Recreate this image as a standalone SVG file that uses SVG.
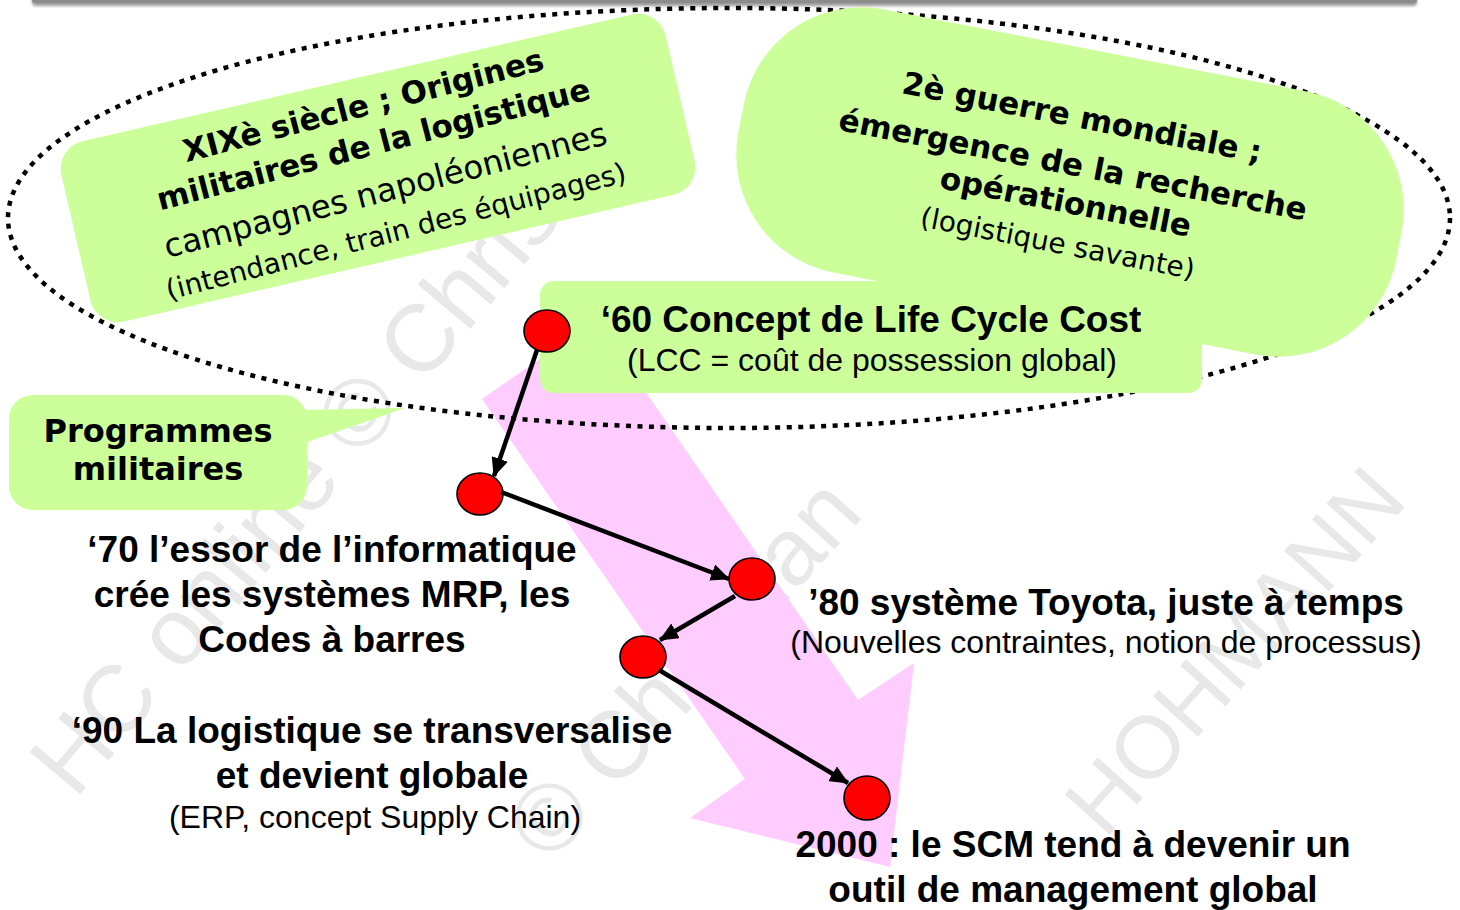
<svg xmlns="http://www.w3.org/2000/svg" width="1460" height="910" viewBox="0 0 1460 910">
<defs>
<style>
.green{fill:#ccff99;stroke:none}
.dot{fill:#ff0000;stroke:#000;stroke-width:1.6}
.ab{font-family:"Liberation Sans",Arial,sans-serif;font-weight:bold;font-size:37px;fill:#000;text-anchor:middle}
.ar{font-family:"Liberation Sans",Arial,sans-serif;font-size:32px;fill:#000;text-anchor:middle}
.vb{font-family:"DejaVu Sans",Verdana,sans-serif;font-weight:bold;font-size:31px;fill:#000;text-anchor:middle}
.vr{font-family:"DejaVu Sans",Verdana,sans-serif;font-size:32px;fill:#000;text-anchor:middle}
.wm{font-family:"Liberation Sans",Arial,sans-serif;font-size:95px;fill:#e8e8e8}
.conn{stroke:#000;stroke-width:4.5;fill:none;marker-end:url(#ah)}
</style>
<marker id="ah" markerUnits="userSpaceOnUse" markerWidth="19" markerHeight="17" viewBox="0 0 19 17" refX="18" refY="8.5" orient="auto">
<path d="M0,0 L19,8.5 L0,17 z" fill="#000"/>
</marker>
<filter id="sh" x="-5%" y="-100%" width="110%" height="400%">
<feGaussianBlur stdDeviation="1.5"/>
</filter>
</defs>
<rect width="1460" height="910" fill="#fff"/>
<g id="watermark">
<text class="wm" transform="translate(75 800) rotate(-50)">HC online © Christian</text>
<text class="wm" transform="translate(550 865) rotate(-48)">© Christian</text>
<text class="wm" transform="translate(1105 840) rotate(-48)" style="font-size:88px">HOHMANN</text>
</g>
<g id="topbar">
<rect x="32" y="-4" width="1385" height="10" rx="4" fill="#9a9a9a" filter="url(#sh)"/>
<rect x="32" y="-4" width="1385" height="7" rx="3" fill="#8c8c8c"/>
</g>
<g id="trend-arrow">
<polygon points="482,399 596,320 858,700 914,663 890,867 690,818 745,779" fill="#ffccff"/>
</g>
<g id="era-ellipse">
<ellipse cx="729" cy="218" rx="721" ry="210" fill="none" stroke="#000" stroke-width="4.5" stroke-dasharray="5 6.5"/>
</g>
<g id="xix">
<rect class="green" transform="rotate(-13 378 168)" x="68" y="75.5" width="620" height="185" rx="28"/>
<g transform="translate(380 170) rotate(-14.5)">
<text class="vb" x="0" y="-56">XIXè siècle ; Origines</text>
<text class="vb" x="0" y="-16">militaires de la logistique</text>
<text class="vr" x="0" y="32" style="font-size:32.5px">campagnes napoléoniennes</text>
<text class="vr" x="0" y="73" style="font-size:28px">(intendance, train des équipages)</text>
</g>
</g>
<g id="ww2">
<rect class="green" transform="rotate(11 1070 182)" x="735" y="48" width="670" height="268" rx="120"/>
<g transform="translate(1070 180) rotate(11)">
<text class="vb" x="0" y="-53">2è guerre mondiale ;</text>
<text class="vb" x="0" y="-5">émergence de la recherche</text>
<text class="vb" x="0" y="33">opérationnelle</text>
<text class="vr" x="0" y="74" style="font-size:28px">(logistique savante)</text>
</g>
</g>
<g id="programmes">
<rect class="green" x="9" y="395" width="298" height="115" rx="24"/>
<polygon class="green" points="296,410 405,408 296,446"/>
<text class="vb" x="158" y="442" style="font-size:32px">Programmes</text>
<text class="vb" x="158" y="480" style="font-size:32px">militaires</text>
</g>
<g id="n1960">
<rect class="green" x="540" y="281" width="662" height="112" rx="14"/>
<text class="ab" x="871" y="332">‘60 Concept de Life Cycle Cost</text>
<text class="ar" x="872" y="371">(LCC = coût de possession global)</text>
<ellipse class="dot" cx="547" cy="331" rx="23" ry="21"/>
</g>
<g id="n1970">
<ellipse class="dot" cx="480" cy="494" rx="23" ry="21"/>
<text class="ab" x="332" y="562">‘70 l’essor de l’informatique</text>
<text class="ab" x="332" y="607">crée les systèmes MRP, les</text>
<text class="ab" x="332" y="652">Codes à barres</text>
</g>
<g id="n1980">
<ellipse class="dot" cx="752" cy="579" rx="23" ry="21"/>
<text class="ab" x="1106" y="615">’80 système Toyota, juste à temps</text>
<text class="ar" x="1106" y="653">(Nouvelles contraintes, notion de processus)</text>
</g>
<g id="n1990">
<ellipse class="dot" cx="643" cy="657" rx="23" ry="21"/>
<text class="ab" x="372" y="743">‘90 La logistique se transversalise</text>
<text class="ab" x="372" y="788">et devient globale</text>
<text class="ar" x="375" y="828">(ERP, concept Supply Chain)</text>
</g>
<g id="n2000">
<ellipse class="dot" cx="867" cy="798" rx="23" ry="22"/>
<text class="ab" x="1073" y="857">2000 : le SCM tend à devenir un</text>
<text class="ab" x="1073" y="902">outil de management global</text>
</g>
<g id="connectors">
<line class="conn" x1="537" y1="350" x2="494" y2="476"/>
<line class="conn" x1="501" y1="492" x2="729" y2="579"/>
<line class="conn" x1="735" y1="596" x2="660" y2="640"/>
<line class="conn" x1="659" y1="670" x2="848" y2="783"/>
</g>
</svg>
